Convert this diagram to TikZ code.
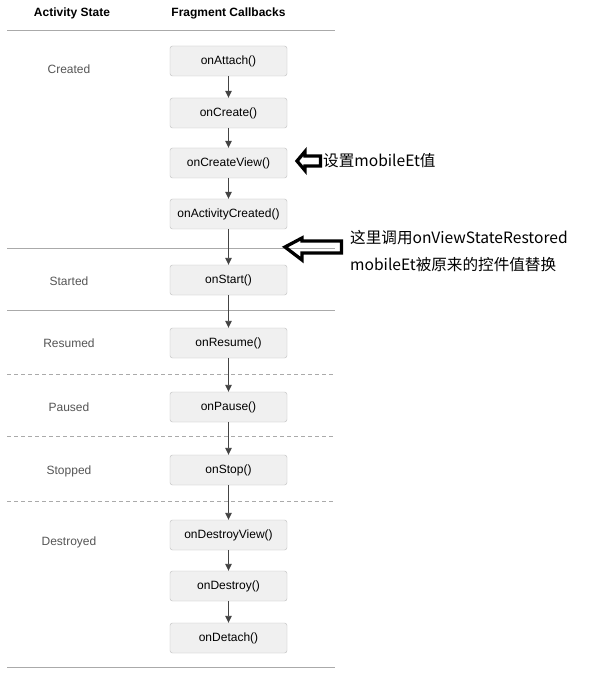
\documentclass[tikz,border=0pt]{standalone}
\usepackage{fontspec}
\setmainfont{Liberation Sans}
\newfontfamily\cjk{Noto Sans CJK SC}
\usetikzlibrary{arrows.meta}
\definecolor{boxfill}{HTML}{F0F0F0}
\definecolor{boxline}{HTML}{BDBDBD}
\definecolor{sepline}{HTML}{AAAAAA}
\definecolor{conn}{HTML}{444444}
\definecolor{statetext}{HTML}{555555}
\begin{document}
\begin{tikzpicture}[x=1pt,y=-1pt,
  cb/.style={draw=boxline,fill=boxfill,rounded corners=2.5pt,minimum width=117pt,minimum height=30pt,inner sep=0pt,font=\fontsize{12}{14}\selectfont,text=black},
  st/.style={font=\fontsize{12}{14}\selectfont,text=statetext},
  hd/.style={font=\bfseries\fontsize{12}{14}\selectfont},
  sep/.style={draw=sepline,line width=0.8pt},
  dsep/.style={draw=sepline,line width=0.8pt,dash pattern=on 4pt off 3pt},
  conn/.style={draw=conn,line width=0.9pt,-{Triangle[width=6.5pt,length=7pt]}},
  note/.style={font=\cjk\fontsize{15.6}{18}\selectfont,anchor=west,inner sep=0pt},
  bigarrow/.style={draw=black,line width=3.3pt,line join=miter}]
\useasboundingbox (0,0) rectangle (599,692);
\fill[white] (0,0) rectangle (599,692);
% headers
\node[hd] (h1) at (72,13) {Activity State};
\node[hd] (h2) at (228.5,13) {Fragment Callbacks};
% separators
\draw[sep] (7,30) -- (335,30);
\draw[sep] (7,248) -- (335,248);
\draw[sep] (7,310) -- (335,310);
\draw[dsep] (7,374) -- (335,374);
\draw[dsep] (7,436) -- (335,436);
\draw[dsep] (7,501) -- (335,501);
\draw[sep] (7,667) -- (335,667);
% states
\node[st] (s1) at (69,69) {Created};
\node[st] (s2) at (69,281) {Started};
\node[st] (s3) at (69,343) {Resumed};
\node[st] (s4) at (69,407) {Paused};
\node[st] (s5) at (69,471) {Stopped};
\node[st] (s6) at (69,542) {Destroyed};
% callbacks
\node[cb] (a) at (228.5,61) {onAttach()};
\node[cb] (b) at (228.5,113) {onCreate()};
\node[cb] (c) at (228.5,163) {onCreateView()};
\node[cb] (d) at (228.5,214) {onActivityCreated()};
\node[cb] (e) at (228.5,280) {onStart()};
\node[cb] (f) at (228.5,343) {onResume()};
\node[cb] (g) at (228.5,407) {onPause()};
\node[cb] (h) at (228.5,470) {onStop()};
\node[cb] (i) at (228.5,535) {onDestroyView()};
\node[cb] (j) at (228.5,586) {onDestroy()};
\node[cb] (k) at (228.5,638) {onDetach()};
\foreach \u/\v in {a/b,b/c,c/d,d/e,e/f,f/g,g/h,h/i,i/j,j/k}
  \draw[conn] (\u.south) -- (\v.north);
% annotations
\draw[bigarrow] (297,161) -- (305,151.5) -- (305,156) -- (320.5,156) -- (320.5,166) -- (305,166) -- (305,170.5) -- cycle;
\node[note] (n1) at (323,161) {设置mobileEt值};
\draw[bigarrow] (285,247) -- (302,238) -- (302,241) -- (341.5,241) -- (341.5,253) -- (302,253) -- (302,260) -- cycle;
\node[note] (n2) at (350,238) {这里调用onViewStateRestored};
\node[note] (n3) at (350,265) {mobileEt被原来的控件值替换};
\end{tikzpicture}
\end{document}
